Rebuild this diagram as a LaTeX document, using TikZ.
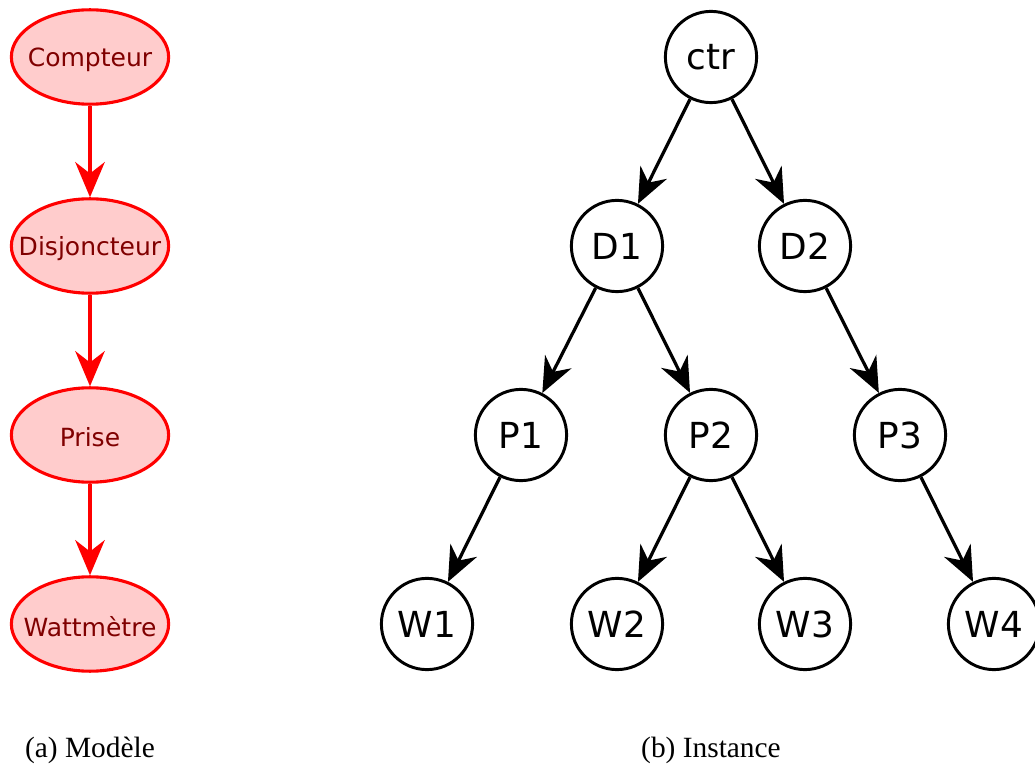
\documentclass[tikz,border=0pt]{standalone}
\usepackage{fontspec}
\setmainfont{Liberation Serif}
\newfontfamily\dejavu{DejaVu Sans}
\usetikzlibrary{arrows.meta,shapes.geometric,positioning}
\definecolor{darkred}{HTML}{800000}
\definecolor{pinkfill}{HTML}{FFCCCC}

\begin{document}
\begin{tikzpicture}[x=0.025cm,y=-0.025cm,
		classe/.style={draw=red,ellipse,fill=pinkfill,line width=2.2pt,minimum width=3.93cm,minimum height=2.36cm,inner sep=0pt},
		nom/.style={text=darkred,font=\dejavu\fontsize{17.8}{20}\selectfont,yshift=-1.8pt},
		objet/.style={draw,circle,line width=2.1pt,minimum size=2.28cm,inner sep=0pt,font=\dejavu\fontsize{25.5}{28}\selectfont},
		fleche/.style={-{Stealth[length=25pt,width=21pt]},line width=2.3pt}]
	\useasboundingbox (0,0) rectangle (1035,767);
	
	% Modele
	\node[classe,label={[nom]center:Compteur}] (cpt) at (90,57) {};
	\node[classe,label={[nom]center:Disjoncteur}] (dsj) at (90,246) {};
	\node[classe,label={[nom]center:Prise}] (prs) at (90,435) {};
	\node[classe,label={[nom]center:Wattmètre}] (wtt) at (90,624) {};
	
	\draw[fleche,red] (cpt) -- (dsj);
	\draw[fleche,red] (dsj) -- (prs);
	\draw[fleche,red] (prs) -- (wtt);
	
	% Instance
	\node[objet] (ctr) at (711,57) {ctr};
	\node[objet] (d1) at (617,246) {D1};
	\node[objet] (d2) at (805,246) {D2};
	\node[objet] (p1) at (521,435) {P1};
	\node[objet] (p2) at (711,435) {P2};
	\node[objet] (p3) at (900,435) {P3};
	\node[objet] (w1) at (427,624) {W1};
	\node[objet] (w2) at (617,624) {W2};
	\node[objet] (w3) at (805,624) {W3};
	\node[objet] (w4) at (994,624) {W4};
	
	\draw[fleche] (ctr) -- (d1);
	\draw[fleche] (ctr) -- (d2);
	\draw[fleche] (d1) -- (p1);
	\draw[fleche] (d1) -- (p2);
	\draw[fleche] (d2) -- (p3);
	\draw[fleche] (p1) -- (w1);
	\draw[fleche] (p2) -- (w2);
	\draw[fleche] (p2) -- (w3);
	\draw[fleche] (p3) -- (w4);
	
	% Legendes
	\node[font=\fontsize{20.9}{24}\selectfont] (lga) at (90,750) {(a) Modèle};
	\node[font=\fontsize{20.9}{24}\selectfont] (lgb) at (711,750) {(b) Instance};
\end{tikzpicture}
\end{document}
